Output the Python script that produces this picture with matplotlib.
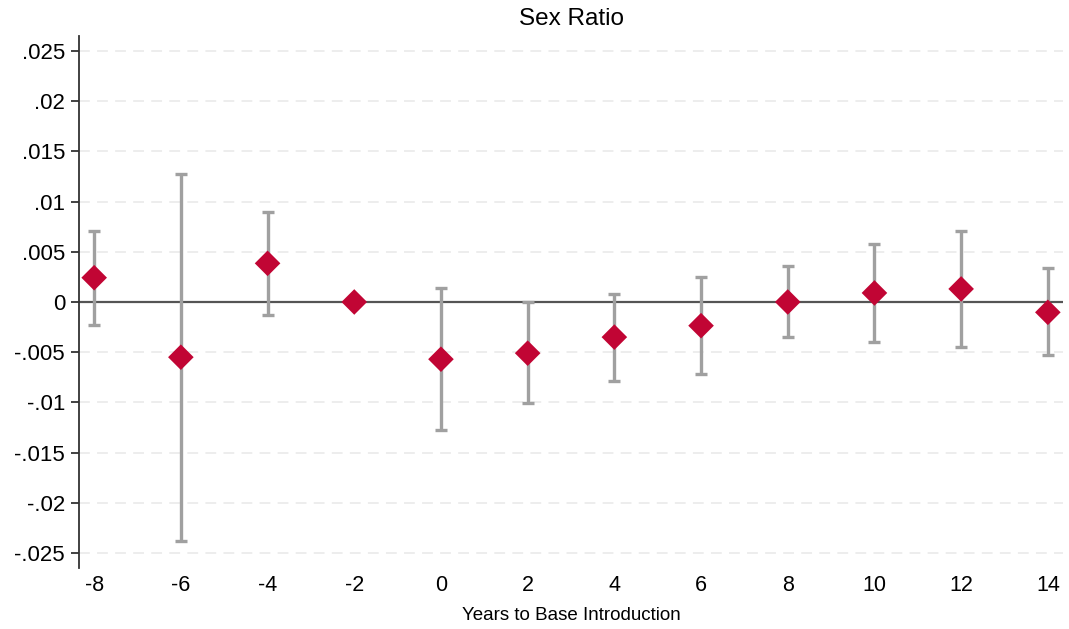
import matplotlib
matplotlib.use("Agg")
import matplotlib.pyplot as plt
import numpy as np

plt.rcParams['font.family'] = ['Liberation Sans', 'DejaVu Sans']

# Event-study estimates: years relative to base introduction
years = [-8, -6, -4, -2, 0, 2, 4, 6, 8, 10, 12, 14]
coef = [0.00242, -0.0055, 0.00385, 0.0, -0.0057, -0.0051, -0.0035, -0.00236, 0.0, 0.0009, 0.0013, -0.00103]
ci_upper = [0.00707, 0.01278, 0.00896, 0.0, 0.00143, 0.0, 0.00076, 0.00252, 0.00355, 0.0058, 0.0071, 0.0034]
ci_lower = [-0.00226, -0.0238, -0.00126, 0.0, -0.01275, -0.0101, -0.0079, -0.0072, -0.0035, -0.004, -0.00445, -0.0053]

ytick_vals = [-0.025, -0.02, -0.015, -0.01, -0.005, 0, 0.005, 0.01, 0.015, 0.02, 0.025]
ytick_labels = ['-.025', '-.02', '-.015', '-.01', '-.005', '0', '.005', '.01', '.015', '.02', '.025']
xtick_vals = years

fig = plt.figure(figsize=(10.69, 6.29), dpi=100)
ax = fig.add_axes([0.0739, 0.097, 0.9205, 0.8458])

ax.set_xlim(-8.35, 14.35)
ax.set_ylim(-0.0265, 0.0265)

# Horizontal reference grid (dashed) and zero line
for v in ytick_vals:
    if v == 0:
        ax.axhline(0, color='#555555', lw=1.6, zorder=1)
    else:
        ax.axhline(v, color='#ECECEC', lw=1.3, ls=(0, (6, 4)), zorder=0)

# Confidence intervals with caps
mask = [not (u == 0 and l == 0) for u, l in zip(ci_upper, ci_lower)]
ex = [x for x, m in zip(years, mask) if m]
ey = [c for c, m in zip(coef, mask) if m]
elo = [c - l for c, l, m in zip(coef, ci_lower, mask) if m]
ehi = [u - c for c, u, m in zip(coef, ci_upper, mask) if m]
ax.errorbar(ex, ey, yerr=[elo, ehi], fmt='none', ecolor='#A0A0A0',
            elinewidth=2.4, capsize=4.5, capthick=2.4, zorder=2)

# Point estimates
ax.scatter(years, coef, marker='D', s=170, color='#C10534', edgecolors='none', zorder=3)

ax.set_yticks(ytick_vals)
ax.set_yticklabels(ytick_labels, fontsize=16)
ax.set_xticks(xtick_vals)
ax.set_xticklabels([str(x) for x in xtick_vals], fontsize=15.5)

ax.tick_params(axis='y', length=6, width=1.3, color='#333333', pad=4)
ax.tick_params(axis='x', length=0, pad=5)

for s in ['top', 'right', 'bottom']:
    ax.spines[s].set_visible(False)
ax.spines['left'].set_color('#333333')
ax.spines['left'].set_linewidth(1.3)

ax.set_xlabel('Years to Base Introduction', fontsize=13.5, labelpad=8)
ax.set_title('Sex Ratio', fontsize=17.5, pad=8)

fig.savefig('out.png', dpi=100)
